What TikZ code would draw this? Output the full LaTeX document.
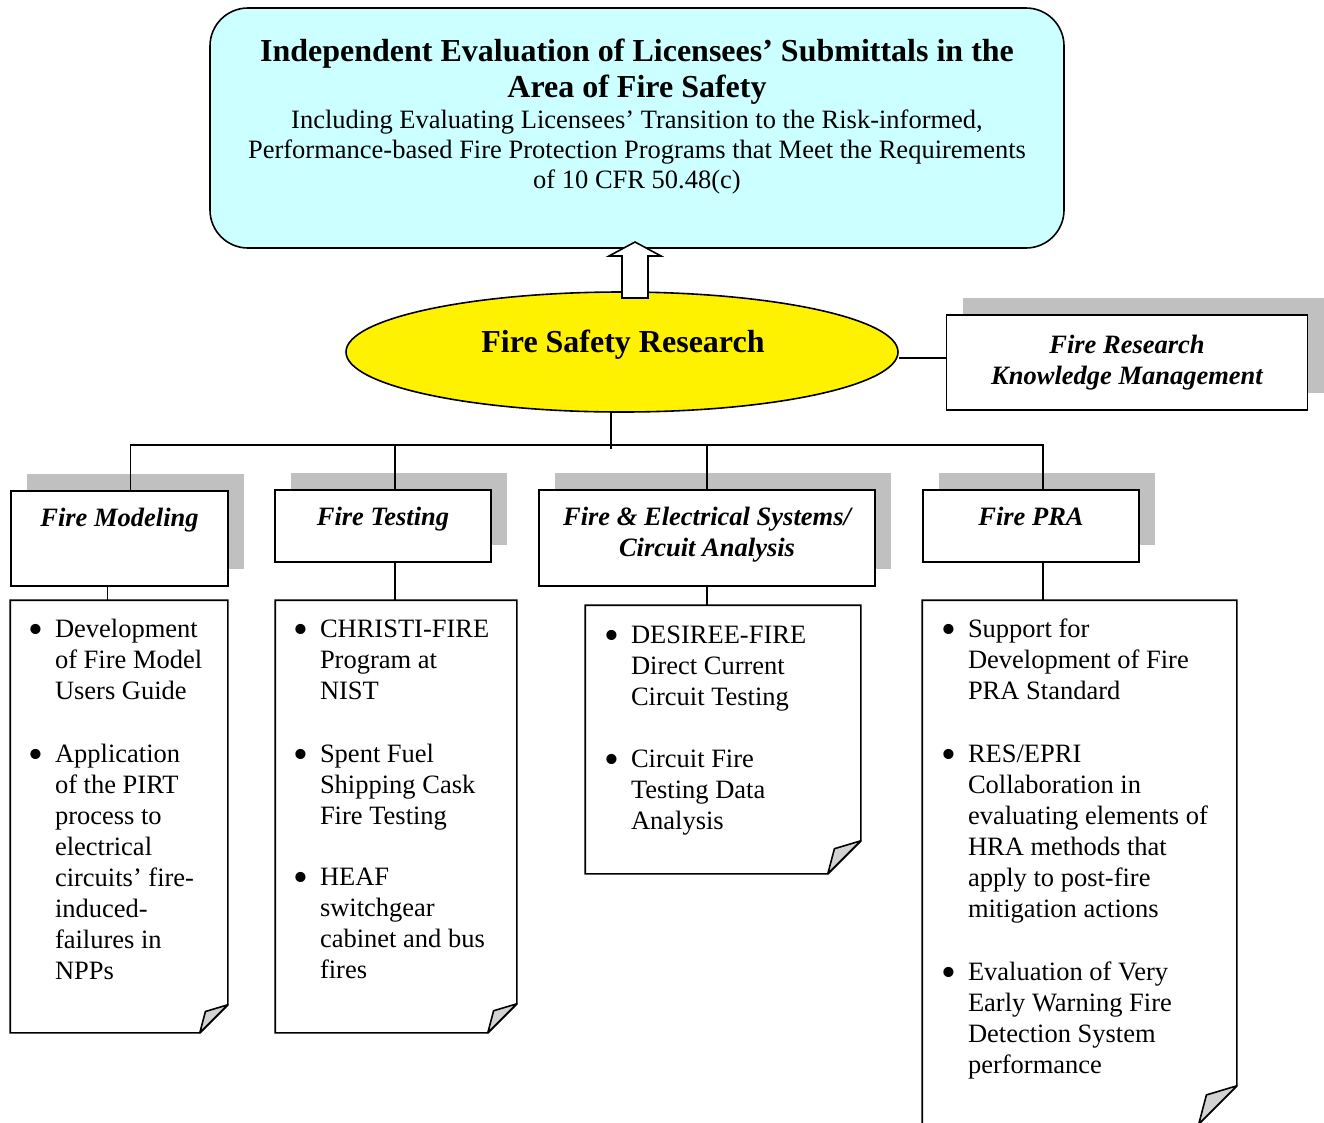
\documentclass[tikz,border=0pt]{standalone}
\usepackage{fontspec}
\setmainfont{Liberation Serif}
\usetikzlibrary{shapes.geometric,shadows,positioning}
\definecolor{goalcyan}{RGB}{204,255,255}
\definecolor{shadowgray}{RGB}{192,192,192}
\definecolor{foldgray}{RGB}{210,210,210}
\newcommand{\itembul}{\llap{\raisebox{-6.5pt}{\scalebox{1.6}{\textbullet}}\hspace{12pt}}}

\begin{document}
\begin{tikzpicture}[x=1pt,y=-1pt,line width=1.6pt,
    goal/.style={draw, rounded corners=38pt, fill=goalcyan, inner sep=0pt, minimum width=854pt, minimum height=240pt},
    research/.style={draw, ellipse, fill=yellow, inner sep=0pt, minimum width=552pt, minimum height=120pt},
    topic/.style={draw, fill=white, inner sep=0pt, align=center, font=\fontsize{26.5}{31}\selectfont\bfseries\itshape,
      drop shadow={shadow xshift=16pt, shadow yshift=17pt, fill=shadowgray, opacity=1}},
    topictext/.style={inner sep=0pt, align=center, font=\fontsize{26.5}{31}\selectfont\bfseries\itshape},
    sheet/.style={inner sep=0pt},
    sheettext/.style={inner sep=0pt, anchor=north west, align=left, font=\fontsize{26.5}{31}\selectfont}]
    \useasboundingbox (0,0) rectangle (1324,1122);

    % goal at the top
    \node[goal] (goal) at (637,128) {};
    \node[anchor=north, align=center, inner sep=0pt, font=\fontsize{32}{36}\selectfont\bfseries] (goaltitle) at (637,35.8)
      {\strut Independent Evaluation of Licensees’ Submittals in the\\Area of Fire Safety};
    \node[anchor=north, align=center, inner sep=0pt, font=\fontsize{26.5}{30}\selectfont] (goalsub) at (637,107)
      {\strut Including Evaluating Licensees’ Transition to the Risk-informed,\\Performance-based Fire Protection Programs that Meet the Requirements\\of 10 CFR 50.48(c)};

    % research programme
    \node[research] (fsr) at (622,352) {};
    \node[anchor=base, inner sep=0pt, font=\fontsize{32}{36}\selectfont\bfseries] (fsrtext) at (623,352) {Fire Safety Research};
    \node[topic, minimum width=361pt, minimum height=95pt] (km) at (1127,362.5) {Fire Research\\Knowledge Management};

    % four research areas
    \node[topic, minimum width=217pt, minimum height=95pt] (fm) at (119.5,538.5) {};
    \node[topic, minimum width=216pt, minimum height=72pt] (ft) at (383,526) {};
    \node[topic, minimum width=336pt, minimum height=96pt] (fe) at (707,538) {};
    \node[topic, minimum width=216pt, minimum height=72pt] (pra) at (1031,526) {};
    \node[topictext, below=13.3pt of fm.north] (fmtext) {\strut Fire Modeling};
    \node[topictext, below=13.3pt of ft.north] (fttext) {\strut Fire Testing};
    \node[topictext, below=13.3pt of fe.north] (fetext) {\strut Fire \& Electrical Systems/\\Circuit Analysis};
    \node[topictext, below=13.3pt of pra.north] (pratext) {\strut Fire PRA};

    % note sheets
    \node[sheet, minimum width=216pt, minimum height=431pt] (p1) at (119,816.5) {};
    \node[sheet, minimum width=240pt, minimum height=431pt] (p2) at (396,816.5) {};
    \node[sheet, minimum width=274pt, minimum height=267pt] (p3) at (723,739.5) {};
    \node[sheet, minimum width=313pt, minimum height=522pt] (p4) at (1079.5,862) {};
    \foreach \p/\f in {p1/28,p2/29,p3/33,p4/38} {
      \filldraw[fill=white] (\p.north west) -- (\p.north east) -- ([yshift=\f pt]\p.south east)
        -- ([xshift=-\f pt]\p.south east) -- (\p.south west) -- cycle;
      \filldraw[fill=foldgray, line join=round] ([yshift=\f pt]\p.south east)
        -- ([xshift={-0.8*\f pt}, yshift={0.76*\f pt}]\p.south east) -- ([xshift=-\f pt]\p.south east) -- cycle;
    }
    \node[sheettext] (p1text) at ([xshift=44pt, yshift=-14.3pt]p1.north west)
      {\strut\itembul Development\\of Fire Model\\Users Guide\\[32pt]
       \itembul Application\\of the PIRT\\process to\\electrical\\circuits’ fire-\\induced-\\failures in\\NPPs};
    \node[sheettext] (p2text) at ([xshift=44pt, yshift=-14.3pt]p2.north west)
      {\strut\itembul CHRISTI-FIRE\\Program at\\NIST\\[32pt]
       \itembul Spent Fuel\\Shipping Cask\\Fire Testing\\[30pt]
       \itembul HEAF\\switchgear\\cabinet and bus\\fires};
    \node[sheettext] (p3text) at ([xshift=45pt, yshift=-15.3pt]p3.north west)
      {\strut\itembul DESIREE-FIRE\\Direct Current\\Circuit Testing\\[31pt]
       \itembul Circuit Fire\\Testing Data\\Analysis};
    \node[sheettext] (p4text) at ([xshift=45pt, yshift=-14.3pt]p4.north west)
      {\strut\itembul Support for\\Development of Fire\\PRA Standard\\[32pt]
       \itembul RES/EPRI\\Collaboration in\\evaluating elements of\\HRA methods that\\apply to post-fire\\mitigation actions\\[32pt]
       \itembul Evaluation of Very\\Early Warning Fire\\Detection System\\performance};

    % connectors
    \coordinate (hub) at (611,449);
    \coordinate (bus) at (611,445);
    \draw ([xshift=-11pt]fsr.south) -- (hub);
    \draw ([xshift=11pt]fm.north) |- (bus) -| ([xshift=12pt]pra.north);
    \draw ([xshift=12pt]ft.north) -- ([xshift=12pt]ft.north |- bus);
    \draw (fe.north) -- (fe.north |- bus);
    \draw ([yshift=-6pt]fsr.east) -- ([yshift=-6pt]fsr.east -| km.west);
    \draw ([xshift=-12pt]fm.south) -- ([xshift=-12pt]fm.south |- p1.north);
    \draw ([xshift=12pt]ft.south) -- ([xshift=12pt]ft.south |- p2.north);
    \draw (fe.south) -- (fe.south |- p3.north);
    \draw ([xshift=12pt]pra.south) -- ([xshift=12pt]pra.south |- p4.north);

    % block arrow up to the goal
    \filldraw[fill=white, line join=miter] (622,298) -- (622,256) -- (609,256) -- (635,242) -- (661,256) -- (648,256) -- (648,298) -- cycle;
\end{tikzpicture}
\end{document}
